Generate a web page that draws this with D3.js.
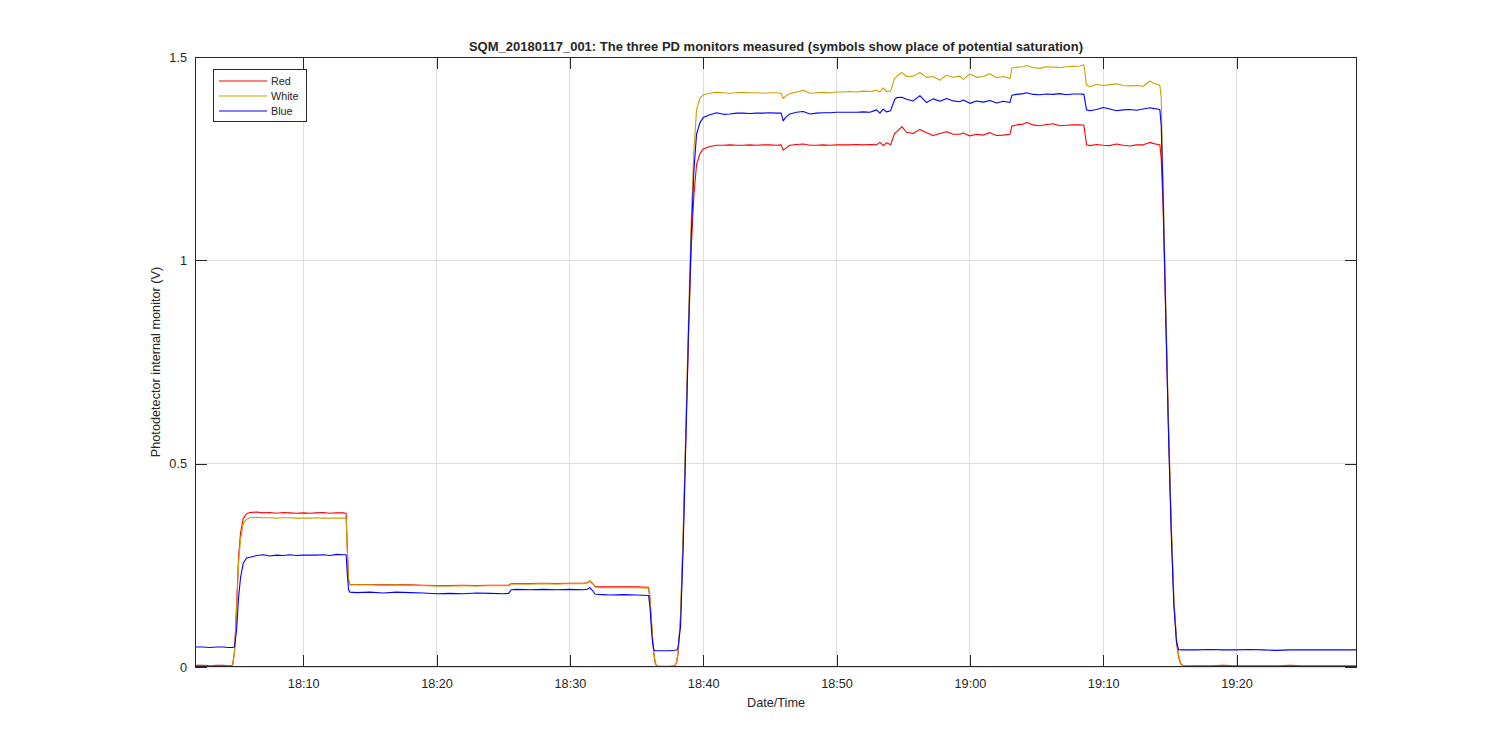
<!DOCTYPE html>
<html>
<head>
<meta charset="utf-8">
<script src="https://cdn.jsdelivr.net/npm/d3@7"></script>
<style>
  html, body { margin: 0; padding: 0; background: #ffffff; }
  svg { display: block; }
  text { font-family: "Liberation Sans", Arial, Helvetica, sans-serif; fill: #262626; }
</style>
</head>
<body>
<svg id="chart" width="1500" height="750"></svg>
<script>
// ---------------- DATA ----------------
const titleText = "SQM_20180117_001: The three PD monitors measured (symbols show place of potential saturation)";
const xLabelText = "Date/Time";
const yLabelText = "Photodetector internal monitor (V)";
const seriesNames = ["Red", "White", "Blue"];
const seriesColors = ["#ff0000", "#c9a100", "#0000ff"];
const xDomainClock = ["18:01:53", "19:29:02"];
const xTickClock = ["18:10", "18:20", "18:30", "18:40", "18:50", "19:00", "19:10", "19:20"];
const yTicks = [0, 0.5, 1, 1.5];
const yDomain = [0, 1.5];

// minutes after 18:00
const minutes = [
  1.88, 2.5, 3.0, 3.5, 4.0, 4.4, 4.7,
  4.85, 5.0, 5.15, 5.3, 5.5, 5.75, 6.0, 6.5,
  7.0, 7.5, 8.0, 8.5, 9.0, 9.5, 10.0, 10.5, 11.0, 11.5, 12.0, 12.5, 13.0, 13.22,
  13.3, 13.4, 13.5,
  14, 15, 16, 17, 18, 19, 20, 21, 22, 23, 24, 25, 25.4,
  25.6, 26, 27, 28, 29, 30, 31, 31.3, 31.5, 31.7, 31.9, 32.5, 33, 34, 35, 35.9,
  36.0, 36.1, 36.2, 36.3, 36.4, 36.5, 36.6,
  37.0, 37.5, 37.85,
  38.0, 38.1, 38.3, 38.5, 38.7, 38.9, 39.1, 39.3, 39.5, 39.75, 40.0, 40.5,
  41, 41.5, 42, 42.5, 43, 43.5, 44, 44.5, 45, 45.5, 45.85, 46.0, 46.2, 46.5,
  47, 47.5, 48, 48.5, 49, 49.5, 50, 50.5, 51, 51.5, 52, 52.5, 53, 53.25, 53.5, 53.75, 54.05,
  54.35, 54.5, 54.9, 55.25, 55.75, 56.25, 56.75, 57.25, 57.75, 58.25, 58.75, 59.25, 59.5, 60, 60.5, 61, 61.5, 62, 62.5, 63,
  63.15, 63.5, 64, 64.25, 64.75, 65.25, 65.75, 66.25, 66.75, 67.25, 67.75, 68.25, 68.55,
  68.75, 69, 69.5, 70, 70.5, 71, 71.5, 72, 72.5, 73, 73.5, 73.8, 74.1, 74.25,
  74.35, 74.5, 74.7, 74.9, 75.1, 75.3, 75.5, 75.65, 75.8, 76.0,
  76.5, 77, 78, 79, 80, 81, 82, 83, 84, 85, 86, 87, 88, 89.03
];

const redValues = [
  0.004, 0.004, 0.003, 0.004, 0.004, 0.003, 0.004,
  0.04, 0.15, 0.27, 0.33, 0.365, 0.377, 0.380, 0.381,
  0.379, 0.380, 0.378, 0.380, 0.379, 0.378, 0.379, 0.378, 0.379, 0.380, 0.378, 0.379, 0.379, 0.378,
  0.30, 0.215, 0.203,
  0.203, 0.203, 0.202, 0.203, 0.202, 0.201, 0.200, 0.200, 0.201, 0.200, 0.201, 0.201, 0.201,
  0.205, 0.205, 0.205, 0.206, 0.205, 0.206, 0.206, 0.207, 0.211, 0.205, 0.198, 0.197, 0.197, 0.197, 0.197, 0.196,
  0.17, 0.12, 0.07, 0.03, 0.01, 0.003, 0.002,
  0.002, 0.002, 0.003,
  0.01, 0.03, 0.12, 0.32, 0.57, 0.82, 1.03, 1.16, 1.235, 1.262, 1.274, 1.280,
  1.283, 1.283, 1.284, 1.283, 1.283, 1.284, 1.283, 1.284, 1.284, 1.283, 1.284, 1.271, 1.276, 1.283,
  1.285, 1.286, 1.283, 1.283, 1.284, 1.283, 1.284, 1.284, 1.284, 1.285, 1.284, 1.285, 1.284, 1.290, 1.282, 1.289, 1.284,
  1.312, 1.316, 1.329, 1.315, 1.312, 1.322, 1.314, 1.307, 1.312, 1.316, 1.310, 1.310, 1.313, 1.306, 1.310, 1.308, 1.314, 1.307, 1.308, 1.310,
  1.330, 1.333, 1.335, 1.339, 1.333, 1.331, 1.334, 1.336, 1.331, 1.332, 1.333, 1.333, 1.332,
  1.284, 1.282, 1.285, 1.283, 1.282, 1.286, 1.283, 1.281, 1.284, 1.284, 1.290, 1.287, 1.285, 1.284,
  1.25, 1.12, 0.85, 0.58, 0.34, 0.16, 0.06, 0.025, 0.008, 0.003,
  0.003, 0.003, 0.003, 0.004, 0.003, 0.003, 0.003, 0.003, 0.004, 0.003, 0.003, 0.003, 0.003, 0.003
];

const whiteValues = [
  0.002, 0.002, 0.002, 0.002, 0.002, 0.002, 0.003,
  0.035, 0.14, 0.255, 0.315, 0.352, 0.363, 0.367, 0.368,
  0.367, 0.367, 0.366, 0.367, 0.367, 0.366, 0.366, 0.366, 0.367, 0.366, 0.366, 0.366, 0.366, 0.366,
  0.29, 0.212, 0.202,
  0.202, 0.202, 0.201, 0.202, 0.201, 0.200, 0.199, 0.199, 0.200, 0.199, 0.200, 0.200, 0.200,
  0.204, 0.204, 0.204, 0.205, 0.204, 0.205, 0.205, 0.207, 0.213, 0.206, 0.196, 0.195, 0.195, 0.195, 0.195, 0.194,
  0.175, 0.125, 0.075, 0.035, 0.012, 0.004, 0.002,
  0.001, 0.001, 0.002,
  0.01, 0.035, 0.13, 0.34, 0.60, 0.86, 1.10, 1.27, 1.37, 1.398, 1.407, 1.411,
  1.413, 1.412, 1.411, 1.412, 1.413, 1.412, 1.412, 1.411, 1.412, 1.412, 1.411, 1.398, 1.404, 1.410,
  1.414, 1.418, 1.411, 1.412, 1.413, 1.412, 1.414, 1.414, 1.415, 1.414, 1.416, 1.415, 1.418, 1.414, 1.424, 1.415, 1.416,
  1.447, 1.452, 1.462, 1.452, 1.453, 1.462, 1.450, 1.452, 1.443, 1.455, 1.450, 1.453, 1.445, 1.458, 1.450, 1.452, 1.459, 1.449, 1.452, 1.447,
  1.473, 1.475, 1.476, 1.479, 1.474, 1.472, 1.476, 1.475, 1.474, 1.476, 1.477, 1.478, 1.481,
  1.431, 1.427, 1.433, 1.430, 1.432, 1.434, 1.430, 1.429, 1.430, 1.428, 1.441, 1.435, 1.433, 1.430,
  1.40, 1.18, 0.88, 0.60, 0.36, 0.17, 0.07, 0.03, 0.01, 0.003,
  0.002, 0.002, 0.002, 0.002, 0.002, 0.002, 0.002, 0.002, 0.002, 0.002, 0.002, 0.002, 0.002, 0.002
];

const blueValues = [
  0.049, 0.049, 0.048, 0.049, 0.049, 0.048, 0.048,
  0.05, 0.09, 0.17, 0.22, 0.255, 0.268, 0.270, 0.274,
  0.276, 0.273, 0.275, 0.274, 0.276, 0.274, 0.275, 0.275, 0.275, 0.276, 0.274, 0.277, 0.276, 0.276,
  0.23, 0.19, 0.184,
  0.183, 0.184, 0.182, 0.184, 0.183, 0.182, 0.180, 0.181, 0.180, 0.182, 0.181, 0.180, 0.181,
  0.190, 0.191, 0.190, 0.191, 0.190, 0.191, 0.190, 0.191, 0.195, 0.188, 0.179, 0.178, 0.177, 0.178, 0.177, 0.176,
  0.15, 0.10, 0.06, 0.042, 0.040, 0.040, 0.040,
  0.040, 0.040, 0.041,
  0.042, 0.045, 0.10, 0.30, 0.56, 0.83, 1.06, 1.22, 1.31, 1.338, 1.351, 1.358,
  1.363, 1.359, 1.360, 1.362, 1.362, 1.361, 1.362, 1.362, 1.363, 1.362, 1.362, 1.343, 1.352, 1.360,
  1.364, 1.366, 1.360, 1.362, 1.363, 1.363, 1.364, 1.364, 1.364, 1.364, 1.365, 1.364, 1.370, 1.362, 1.372, 1.365, 1.368,
  1.395, 1.400, 1.401, 1.396, 1.392, 1.405, 1.388, 1.397, 1.391, 1.398, 1.392, 1.390, 1.394, 1.386, 1.392, 1.389, 1.393, 1.387, 1.391, 1.388,
  1.406, 1.408, 1.410, 1.412, 1.408, 1.407, 1.409, 1.408, 1.410, 1.407, 1.409, 1.409, 1.408,
  1.370, 1.368, 1.371, 1.376, 1.372, 1.368, 1.370, 1.371, 1.369, 1.372, 1.375, 1.373, 1.372, 1.370,
  1.33, 1.14, 0.85, 0.57, 0.33, 0.15, 0.06, 0.043, 0.042, 0.042,
  0.042, 0.042, 0.043, 0.042, 0.042, 0.043, 0.042, 0.041, 0.042, 0.042, 0.042, 0.042, 0.042, 0.042
];

// ---------------- CHART ----------------
const seriesValues = [redValues, whiteValues, blueValues];
const baseDay = [2018, 0, 17];
const fromMinutes = m => new Date(new Date(baseDay[0], baseDay[1], baseDay[2], 18, 0, 0).getTime() + Math.round(m * 60000));
const parseClock = s => {
  const p = s.split(":").map(Number);
  return new Date(baseDay[0], baseDay[1], baseDay[2], p[0], p[1], p[2] || 0);
};

const W = 1500, H = 750;
const M = { left: 195, right: 1357, top: 57, bottom: 667 };
const tickLen = 11.6;
const axisColor = "#262626";
const gridColor = "#dedede";

const svg = d3.select("#chart");
svg.append("rect").attr("width", W).attr("height", H).attr("fill", "#ffffff");

const x = d3.scaleTime().domain(xDomainClock.map(parseClock)).range([M.left, M.right]);
const y = d3.scaleLinear().domain(yDomain).range([M.bottom, M.top]);
const xTickDates = xTickClock.map(parseClock);

// grid
const grid = svg.append("g");
grid.selectAll("line.vx").data(xTickDates).join("line")
  .attr("x1", d => x(d)).attr("x2", d => x(d))
  .attr("y1", M.top).attr("y2", M.bottom)
  .attr("stroke", gridColor).attr("stroke-width", 1).attr("shape-rendering", "crispEdges");
grid.selectAll("line.hy").data(yTicks).join("line")
  .attr("x1", M.left).attr("x2", M.right)
  .attr("y1", d => y(d)).attr("y2", d => y(d))
  .attr("stroke", gridColor).attr("stroke-width", 1).attr("shape-rendering", "crispEdges");

// lines
const clipId = "plotclip";
svg.append("clipPath").attr("id", clipId).append("rect")
  .attr("x", M.left).attr("y", M.top).attr("width", M.right - M.left).attr("height", M.bottom - M.top);

const lineGen = d3.line()
  .x((d, i) => x(fromMinutes(minutes[i])))
  .y(d => y(d));

const plot = svg.append("g").attr("clip-path", `url(#${clipId})`);
seriesValues.forEach((vals, k) => {
  plot.append("path")
    .datum(vals)
    .attr("d", lineGen)
    .attr("fill", "none")
    .attr("stroke", seriesColors[k])
    .attr("stroke-width", 1.1)
    .attr("stroke-linejoin", "round");
});

// axes
const fmt = d3.timeFormat("%H:%M");
const styleAxis = g => {
  g.select(".domain").remove();
  g.selectAll(".tick line").attr("stroke", axisColor).attr("stroke-width", 1).attr("shape-rendering", "crispEdges");
  g.selectAll(".tick text").attr("fill", axisColor).style("font-size", "12.7px")
    .style("font-family", '"Liberation Sans", Arial, Helvetica, sans-serif');
};

svg.append("g").attr("transform", `translate(0,${M.bottom})`)
  .call(d3.axisBottom(x).tickValues(xTickDates).tickFormat(fmt).tickSizeInner(-tickLen).tickSizeOuter(0).tickPadding(12))
  .call(styleAxis);
svg.append("g").attr("transform", `translate(0,${M.top})`)
  .call(d3.axisTop(x).tickValues(xTickDates).tickFormat("").tickSizeInner(-tickLen).tickSizeOuter(0))
  .call(styleAxis);
svg.append("g").attr("transform", `translate(${M.left},0)`)
  .call(d3.axisLeft(y).tickValues(yTicks).tickFormat(d3.format("")).tickSizeInner(-tickLen).tickSizeOuter(0).tickPadding(8))
  .call(styleAxis);
svg.append("g").attr("transform", `translate(${M.right},0)`)
  .call(d3.axisRight(y).tickValues(yTicks).tickFormat("").tickSizeInner(-tickLen).tickSizeOuter(0))
  .call(styleAxis);

// box
svg.append("rect")
  .attr("x", M.left + 0.5).attr("y", M.top + 0.5)
  .attr("width", M.right - M.left - 1).attr("height", M.bottom - M.top - 1)
  .attr("fill", "none").attr("stroke", axisColor).attr("stroke-width", 1);

// title and labels
svg.append("text")
  .attr("x", (M.left + M.right) / 2).attr("y", 51)
  .attr("text-anchor", "middle")
  .style("font-size", "13px").style("font-weight", "bold")
  .attr("fill", "#000")
  .text(titleText);

svg.append("text")
  .attr("x", (M.left + M.right) / 2).attr("y", 707)
  .attr("text-anchor", "middle")
  .style("font-size", "12.7px")
  .text(xLabelText);

svg.append("text")
  .attr("transform", `translate(160,${(M.top + M.bottom) / 2}) rotate(-90)`)
  .attr("text-anchor", "middle")
  .style("font-size", "12.7px")
  .text(yLabelText);

// legend
const lg = svg.append("g");
lg.append("rect").attr("x", 213.5).attr("y", 69.5).attr("width", 93).attr("height", 52)
  .attr("fill", "#ffffff").attr("stroke", axisColor).attr("stroke-width", 1);
seriesNames.forEach((name, k) => {
  const yy = 81 + k * 15;
  lg.append("line").attr("x1", 219).attr("x2", 267).attr("y1", yy).attr("y2", yy)
    .attr("stroke", seriesColors[k]).attr("stroke-width", 1.1);
  lg.append("text").attr("x", 271).attr("y", yy).attr("dy", "0.35em")
    .style("font-size", "10.8px").attr("fill", "#000").text(name);
});
</script>
</body>
</html>
